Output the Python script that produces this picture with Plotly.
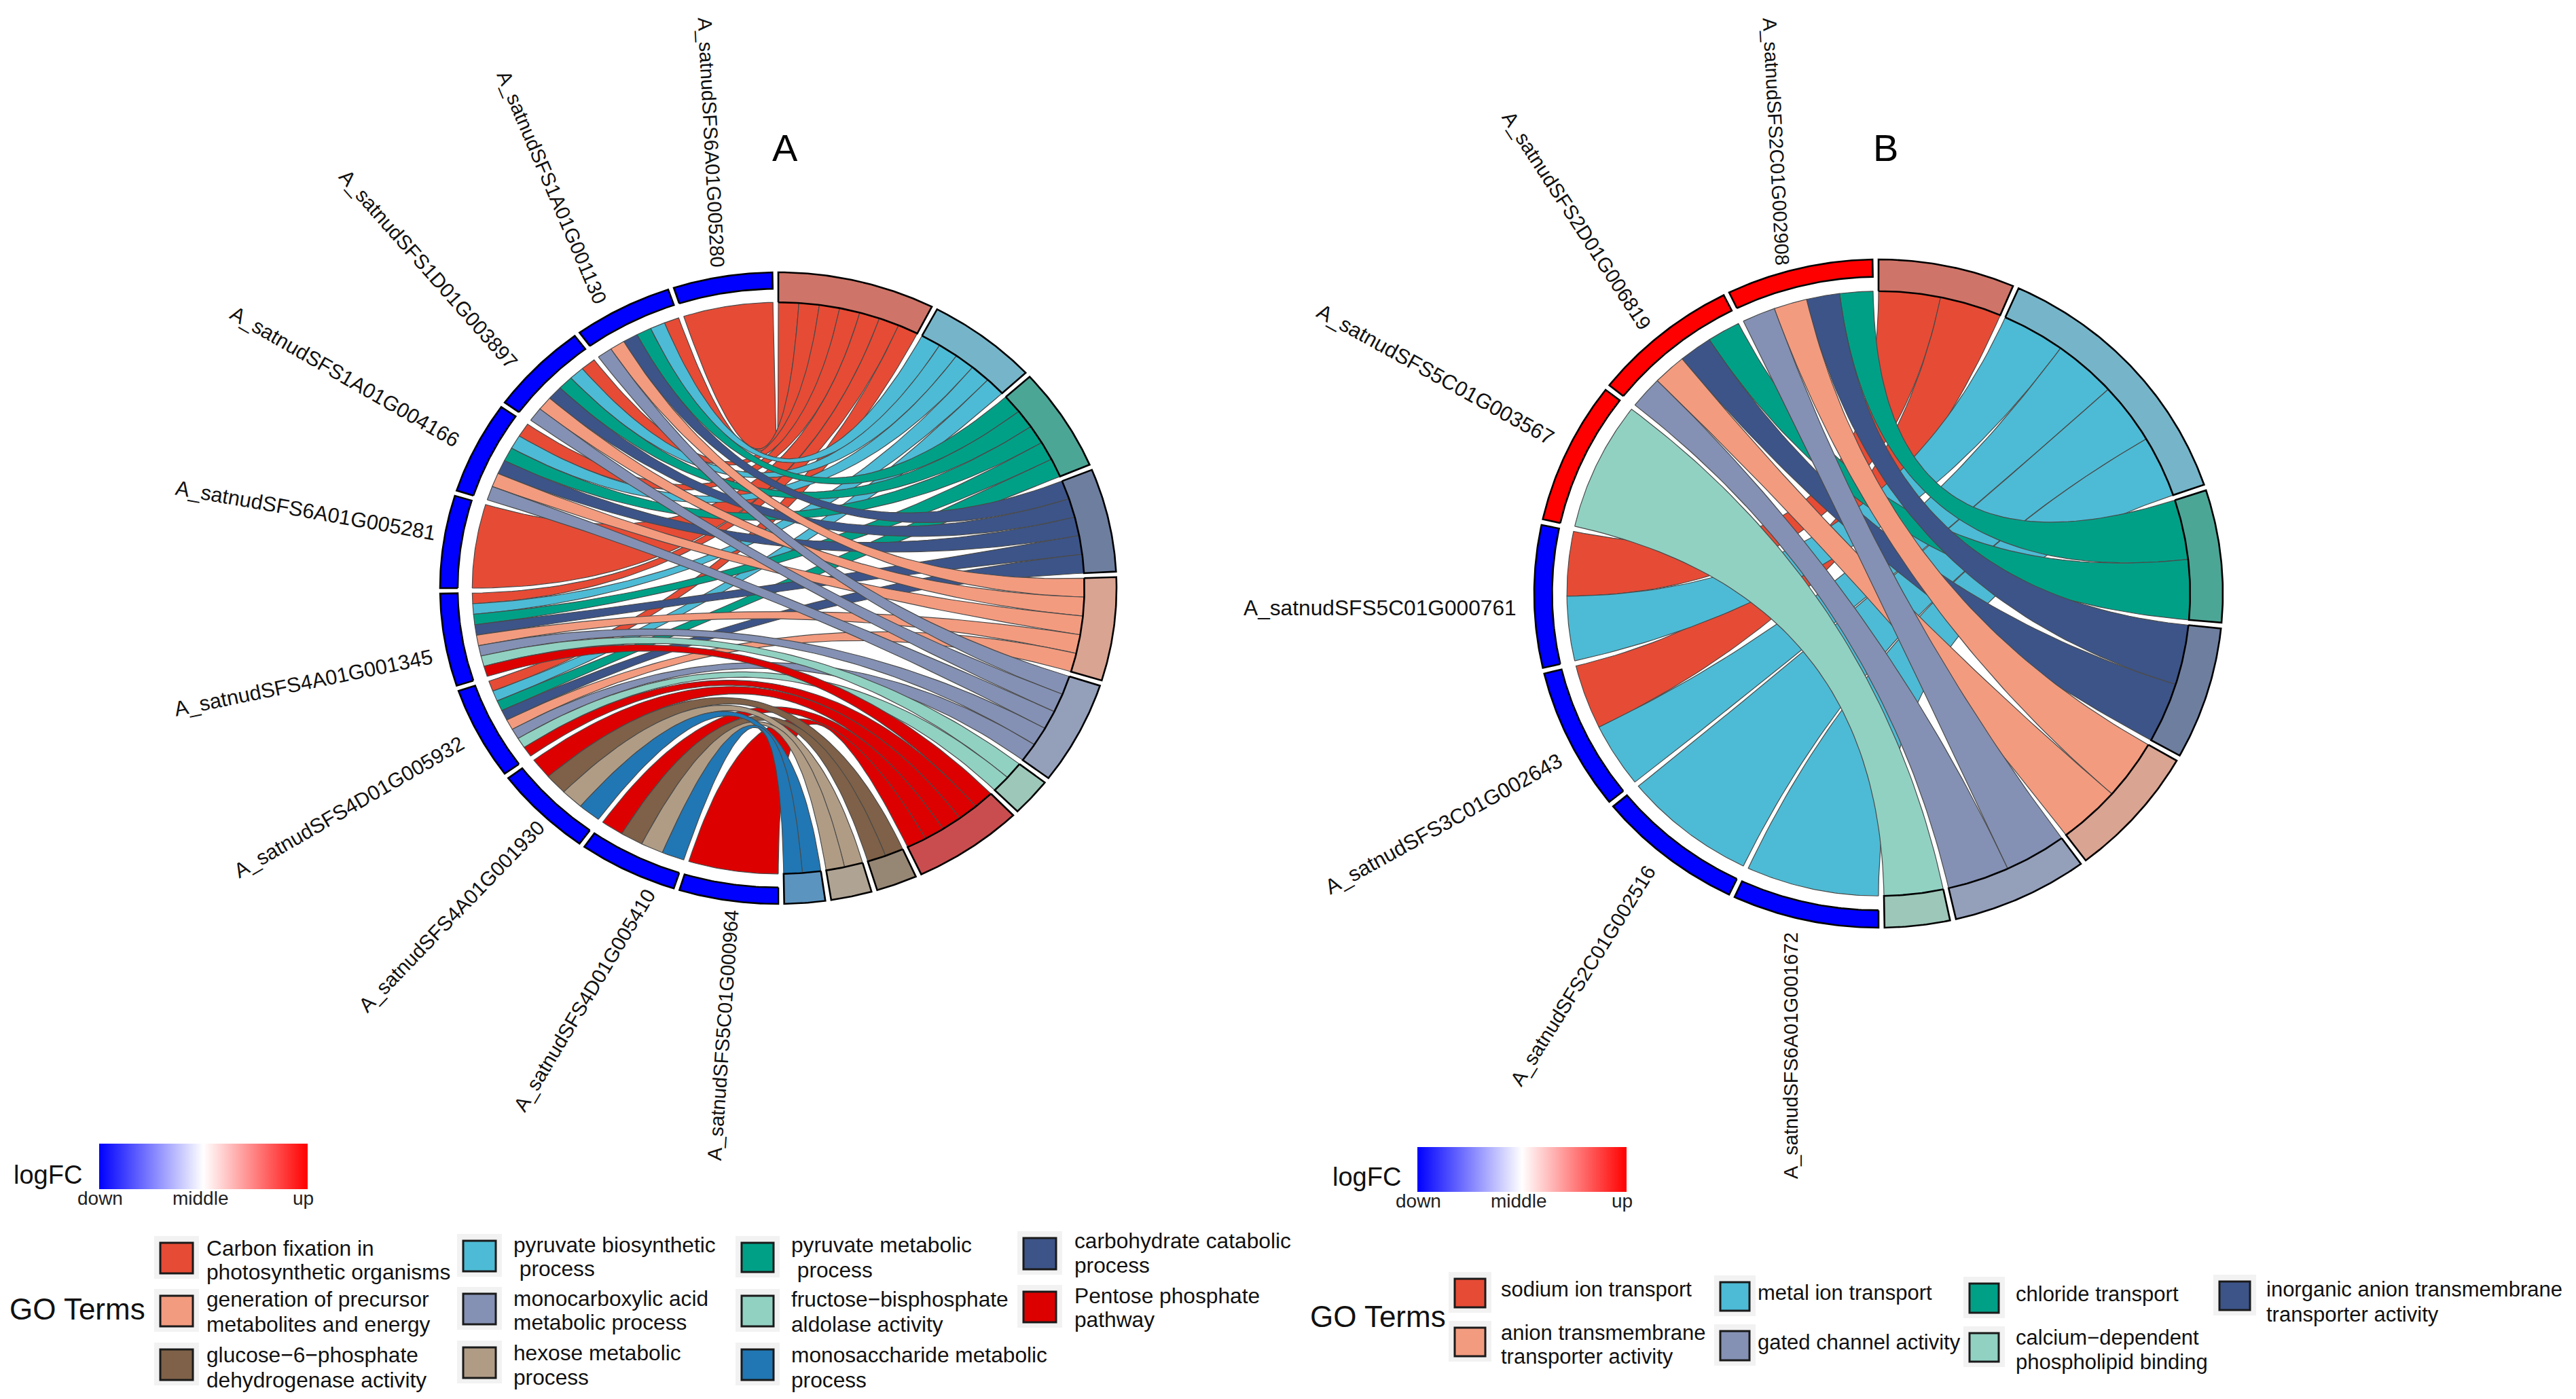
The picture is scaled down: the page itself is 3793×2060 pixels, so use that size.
import math
import plotly.graph_objects as go

# ---------- data: panel A ----------
genes_a = ["A_satnudSFS6A01G005280", "A_satnudSFS1A01G001130", "A_satnudSFS1D01G003897",
           "A_satnudSFS1A01G004166", "A_satnudSFS6A01G005281", "A_satnudSFS4A01G001345",
           "A_satnudSFS4D01G005932", "A_satnudSFS4A01G001930", "A_satnudSFS4D01G005410",
           "A_satnudSFS5C01G000964"]
logfc_a = [-1, -1, -1, -1, -1, -1, -1, -1, -1, -1]
terms_a = ["Carbon fixation in\nphotosynthetic organisms", "pyruvate biosynthetic\n\u00a0process",
           "pyruvate metabolic\n\u00a0process", "carbohydrate catabolic\nprocess",
           "generation of precursor\nmetabolites and energy", "monocarboxylic acid\nmetabolic process",
           "fructose\u2212bisphosphate\naldolase activity", "Pentose phosphate\npathway",
           "glucose\u22126\u2212phosphate\ndehydrogenase activity", "hexose metabolic\nprocess",
           "monosaccharide metabolic\nprocess"]
member_a = [
    [1, 0, 0, 0, 0, 0, 0, 0, 0, 0, 0],
    [1, 1, 1, 1, 1, 1, 0, 0, 0, 0, 0],
    [1, 1, 1, 1, 1, 1, 0, 0, 0, 0, 0],
    [1, 1, 1, 1, 1, 1, 0, 0, 0, 0, 0],
    [1, 0, 0, 0, 0, 0, 0, 0, 0, 0, 0],
    [1, 1, 1, 1, 1, 1, 1, 1, 0, 0, 0],
    [1, 1, 1, 1, 1, 1, 1, 1, 0, 0, 0],
    [0, 0, 0, 0, 0, 0, 0, 1, 1, 1, 1],
    [0, 0, 0, 0, 0, 0, 0, 1, 1, 1, 1],
    [0, 0, 0, 0, 0, 0, 0, 1, 0, 0, 0],
]
colors_a = ["#E64B35", "#4DBBD5", "#00A087", "#3C5488", "#F39B7F", "#8491B4",
            "#91D1C2", "#DC0000", "#7E6148", "#B09C85", "#2077B4"]
blocks_a = ["#CF7468", "#76B5C9", "#4CA696", "#6E7E9F", "#D9A492", "#949FBA",
            "#9DC7B8", "#C94D4F", "#968674", "#AFA393", "#5C94C0"]

# ---------- data: panel B ----------
genes_b = ["A_satnudSFS2C01G002908", "A_satnudSFS2D01G006819", "A_satnudSFS5C01G003567",
           "A_satnudSFS5C01G000761", "A_satnudSFS3C01G002643", "A_satnudSFS2C01G002516",
           "A_satnudSFS6A01G001672"]
logfc_b = [1, 1, 1, -1, -1, -1, -1]
terms_b = ["sodium ion transport", "metal ion transport", "chloride transport",
           "inorganic anion transmembrane\ntransporter activity",
           "anion transmembrane\ntransporter activity", "gated channel activity",
           "calcium\u2212dependent\nphospholipid binding"]
member_b = [
    [0, 0, 1, 1, 1, 1, 0],
    [0, 0, 1, 1, 1, 1, 0],
    [0, 0, 0, 0, 0, 0, 1],
    [1, 1, 0, 0, 0, 0, 0],
    [1, 1, 0, 0, 0, 0, 0],
    [0, 1, 0, 0, 0, 0, 0],
    [0, 1, 0, 0, 0, 0, 0],
]
colors_b = ["#E64B35", "#4DBBD5", "#00A087", "#3C5488", "#F39B7F", "#8491B4", "#91D1C2"]
blocks_b = ["#CF7468", "#76B5C9", "#4CA696", "#6E7E9F", "#D9A492", "#949FBA", "#9DC7B8"]

# gene label placement (layout only): polar angle, polar radius, text rotation
place_a = ([352, 332.2, 314.3, 297.6, 280, 257.9, 241.4, 222.9, 203.7, 186.6],
           [1.425, 1.435, 1.445, 1.446, 1.42, 1.435, 1.447, 1.42, 1.425, 1.424],
           [87, 67, 48.5, 30, 10, -11.6, -30, -46, -59, -86])
place_b = ([347.6, 321.9, 297, 268.3, 241.4, 216.9, 190.4],
           [1.386, 1.42, 1.444, 1.449, 1.44, 1.43, 1.407],
           [87, 57, 29, 0, -29, -58, -90])

W, H = 3793, 2060
FONT = "Liberation Sans"
GAP = 1.0
R_RIB, R_GI, R_OUT = 0.905, 0.948, 1.0
EXT = 1.5
fig = go.Figure()
shapes, annots = [], []


def px(x):
    return x / W


def py(y):
    return 1 - y / H


def pt(a, r):
    t = math.radians(a)
    return r * math.sin(t), r * math.cos(t)


def arc(a0, a1, r, step=0.5):
    n = max(2, int(abs(a1 - a0) / step) + 1)
    return [pt(a0 + (a1 - a0) * i / (n - 1), r) for i in range(n)]


def bez(p0, p2, n=60):
    out = []
    for i in range(1, n):
        s = i / n
        k0, k2 = (1 - s) ** 2, s ** 2
        out.append((k0 * p0[0] + k2 * p2[0], k0 * p0[1] + k2 * p2[1]))
    return out


def poly(points, fill, line, lw, xa, ya):
    fig.add_trace(go.Scatter(
        x=[p[0] for p in points] + [points[0][0]],
        y=[p[1] for p in points] + [points[0][1]],
        mode="lines", fill="toself", fillcolor=fill,
        line=dict(color=line, width=lw), hoverinfo="skip", showlegend=False,
        xaxis=xa, yaxis=ya))


def chord(genes, logfc, member, colors, blocks, place, size_h, size_v, xa, ya):
    n_g, n_t = len(genes), len(colors)
    counts = [sum(row[j] for row in member) for j in range(n_t)]
    per = 180.0 / sum(counts)
    tstart, s = [], 0.0
    for c in counts:
        tstart.append(s)
        s += c * per
    gw = 180.0 / n_g
    ribbons = []
    for j in range(n_t):
        span = counts[j] * per - GAP
        unit = span / counts[j]
        k = 0
        for i in range(n_g):
            if not member[i][j]:
                continue
            ribbons.append((j, i, tstart[j] + k * unit, tstart[j] + (k + 1) * unit))
            k += 1
    for j, i, b0, b1 in ribbons:
        g0 = 180 + (n_g - 1 - i) * gw
        g1 = g0 + gw - GAP
        idx = [q for q in range(n_t) if member[i][q]]
        u = (g1 - g0) / len(idx)
        pos = idx.index(j)
        a1 = g1 - pos * u
        a0 = a1 - u
        pts = arc(a0, a1, R_RIB)
        pts += bez(pt(a1, R_RIB), pt(b0, R_RIB))
        pts += arc(b0, b1, R_RIB)
        pts += bez(pt(b1, R_RIB), pt(a0, R_RIB))
        poly(pts, colors[j], "#4a4a4a", 1.2, xa, ya)
    for j in range(n_t):
        b0, b1 = tstart[j], tstart[j] + counts[j] * per - GAP
        poly(arc(b0, b1, R_RIB) + arc(b1, b0, R_OUT), blocks[j], "#000000", 2.6, xa, ya)
    for i in range(n_g):
        g0 = 180 + (n_g - 1 - i) * gw
        g1 = g0 + gw - GAP
        col = "#FF0000" if logfc[i] > 0 else "#0000FF"
        poly(arc(g0, g1, R_GI) + arc(g1, g0, R_OUT), col, "#000000", 2.6, xa, ya)
        rot = place[2][i]
        x, y = pt(place[0][i], place[1][i])
        t = math.radians(rot)
        size = math.hypot(size_h * math.cos(t), size_v * math.sin(t))
        annots.append(dict(x=x, y=y, xref=xa, yref=ya, text=genes[i], showarrow=False,
                           textangle=rot, xanchor="center", yanchor="middle",
                           font=dict(family=FONT, size=size, color="#111111")))


def axes(name, cx, cy, rx, ry):
    fig.layout[name[0]] = dict(domain=[px(cx - EXT * rx), px(cx + EXT * rx)], range=[-EXT, EXT],
                               visible=False, fixedrange=True)
    fig.layout[name[1]] = dict(domain=[py(cy + EXT * ry), py(cy - EXT * ry)], range=[-EXT, EXT],
                               visible=False, fixedrange=True)


fig.update_layout(width=W, height=H, margin=dict(l=0, r=0, t=0, b=0), autosize=False,
                  paper_bgcolor="white", plot_bgcolor="white", showlegend=False)
axes(("xaxis", "yaxis"), 1146, 866, 498, 465)
axes(("xaxis2", "yaxis2"), 2766, 874, 507, 492)
chord(genes_a, logfc_a, member_a, colors_a, blocks_a, place_a, 30.8, 29.2, "x", "y")
chord(genes_b, logfc_b, member_b, colors_b, blocks_b, place_b, 31.7, 28.8, "x2", "y2")


def text(x, y, s, size, anchor="left", color="#111111"):
    annots.append(dict(x=px(x), y=py(y), xref="paper", yref="paper", text=s, showarrow=False,
                       xanchor=anchor, yanchor="middle",
                       font=dict(family=FONT, size=size, color=color)))


def rect(x0, y0, x1, y1, fill, line=None, lw=0):
    shapes.append(dict(type="rect", xref="paper", yref="paper", x0=px(x0), x1=px(x1),
                       y0=py(y1), y1=py(y0), fillcolor=fill,
                       line=dict(color=line or fill, width=lw)))


def colorbar(x0, x1, y0, y1, lx, ly, xa, ya, cname):
    fig.add_trace(go.Scatter(
        x=[0], y=[0], mode="markers", xaxis=xa, yaxis=ya, hoverinfo="skip", showlegend=False,
        marker=dict(size=1, opacity=0, color=[0], cmin=-1, cmax=1, coloraxis=cname)))
    fig.layout[cname] = dict(
        cmin=-1, cmax=1, colorscale=[[0, "#0000FF"], [0.5, "#FFFFFF"], [1, "#FF0000"]],
        colorbar=dict(orientation="h", x=px(x0), y=py(y0), xanchor="left", yanchor="top",
                      xref="paper", yref="paper", len=x1 - x0, lenmode="pixels",
                      thickness=y1 - y0, thicknessmode="pixels", xpad=0, ypad=0,
                      tickvals=[-1, 0, 1], showticklabels=False, ticks="",
                      outlinewidth=0, borderwidth=0))
    text(lx, ly, "logFC", 38)
    for lab, xx in zip(["down", "middle", "up"], [x0 + 1, (x0 + x1) / 2 - 5, x1 - 7]):
        text(xx, y1 + 13, lab, 28, "center", "#222222")
    for f in (0.25, 0.75):
        xm = x0 + f * (x1 - x0)
        rect(xm - 1, y0 + 34, xm + 1, y0 + 50, "rgba(255,255,255,0.7)")


def legend(title_xy, terms, colors, sw_x, text_x, sw_y, line_y, fs):
    text(title_xy[0], title_xy[1], "GO Terms", 44)
    ncol = len(sw_x)
    for k, term in enumerate(terms):
        r, c = k // ncol, k % ncol
        x0, x1 = sw_x[c]
        y0, y1 = sw_y[c][r]
        rect(x0 - 9, y0 - 10, x1 + 9, y1 + 8, "#F2F2F2")
        rect(x0, y0, x1, y1, colors[k], "#1a1a1a", 3)
        for ln, yy in zip(term.split("\n"), line_y[c][r]):
            text(text_x[c], yy, ln, fs)


colorbar(146, 453, 1684, 1751, 18, 1730, "x", "y", "coloraxis")
colorbar(2087, 2395, 1689, 1755, 1960, 1733, "x2", "y2", "coloraxis2")

legend((12, 1927), terms_a, colors_a,
       [(236, 284), (682, 730), (1092, 1139), (1507, 1555)], [302, 754, 1163, 1580],
       [[(1830, 1875), (1908, 1953), (1987, 2032)], [(1827, 1872), (1905, 1950), (1984, 2029)],
        [(1830, 1873), (1908, 1953), (1987, 2032)], [(1823, 1869), (1902, 1947)]],
       [[(1838, 1873), (1913, 1950), (1995, 2032)], [(1833, 1868), (1912, 1947), (1992, 2028)],
        [(1833, 1870), (1913, 1950), (1995, 2032)], [(1827, 1863), (1908, 1943)]], 31.7)
legend((1927, 1938), terms_b, colors_b,
       [(2142, 2187), (2533, 2576), (2900, 2943), (3268, 3313)], [2208, 2586, 2966, 3335],
       [[(1883, 1925), (1955, 1997)], [(1888, 1930), (1960, 2003)],
        [(1890, 1933), (1963, 2005)], [(1887, 1929)]],
       [[(1898,), (1962, 1997)], [(1903,), (1976,)], [(1905,), (1969, 2005)], [(1898, 1935)]], 31)

text(1156, 217, "A", 56, "center", "#000000")
text(2776, 217, "B", 56, "center", "#000000")

fig.update_layout(shapes=shapes, annotations=annots)
fig.write_html("out.html", config={"displayModeBar": False},
               post_script="document.body.style.margin='0';")
